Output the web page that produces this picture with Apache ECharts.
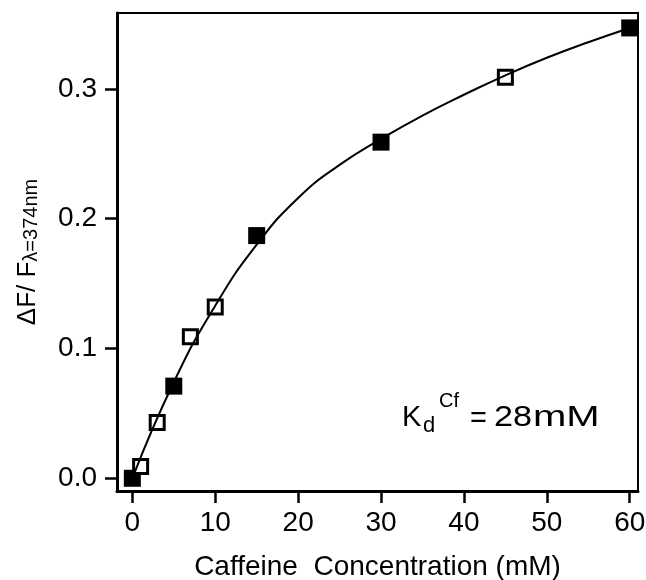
<!DOCTYPE html>
<html>
<head>
<meta charset="utf-8">
<script src="https://cdn.jsdelivr.net/npm/echarts@6/dist/echarts.min.js"></script>
<style>
  html, body { margin: 0; padding: 0; background: #fff; }
  #chart { width: 646px; height: 580px; }
</style>
</head>
<body>
<div id="chart"></div>
<script>
// measured points, caffeine concentration (mM) vs dF/F
var filledX = [0, 5, 15, 30, 60];
var filledY = [0.0, 0.071, 0.187, 0.259, 0.347];
var openX = [1, 3, 7, 10, 45];
var openY = [0.009, 0.043, 0.109, 0.132, 0.309];

// fitted curve (Kd = 28 mM), every 5 mM
var fitX = [0, 5, 10, 15, 20, 25, 30, 35, 40, 45, 50, 55, 60];
var fitY = [0, 0.074, 0.133, 0.180, 0.216, 0.2415, 0.2615, 0.2795, 0.2955, 0.3105, 0.324, 0.336, 0.347];

var xTicks = [0, 10, 20, 30, 40, 50, 60];
var yTicks = [0, 0.1, 0.2, 0.3];

function pairs(xs, ys) {
    return xs.map(function (x, i) { return [x, ys[i]]; });
}

var font = 'Liberation Sans, Arial, Helvetica, sans-serif';
var chart = echarts.init(document.getElementById('chart'));

function label(text, x, y, size, sx) {
    return {
        type: 'text', x: x, y: y, scaleX: sx || 1,
        style: { text: text, fontSize: size, fontFamily: font, fill: '#000', verticalAlign: 'top', align: 'left' }
    };
}

var option = {
    animation: false,
    backgroundColor: '#fff',
    textStyle: { fontFamily: font, color: '#000' },
    grid: {
        left: 117, top: 13, width: 521, height: 478,
        show: true, borderColor: '#000', borderWidth: 2,
        containLabel: false,
        outerBoundsMode: 'none'
    },
    xAxis: {
        type: 'value',
        min: -1.85,
        max: 61,
        splitLine: { show: false },
        axisLine: { onZero: false, lineStyle: { color: '#000', width: 3 } },
        axisTick: { inside: false, length: 12, customValues: xTicks, lineStyle: { color: '#000', width: 2.5 } },
        axisLabel: { customValues: xTicks, margin: 18, fontSize: 28, color: '#000', fontFamily: font },
        name: 'Caffeine  Concentration (mM)',
        nameLocation: 'middle',
        nameGap: 62,
        nameTextStyle: { fontSize: 28, color: '#000', fontFamily: font }
    },
    yAxis: {
        type: 'value',
        min: -0.0098,
        max: 0.3585,
        splitLine: { show: false },
        axisLine: { onZero: false, lineStyle: { color: '#000', width: 3 } },
        axisTick: { inside: false, length: 12, customValues: yTicks, lineStyle: { color: '#000', width: 2.5 } },
        axisLabel: {
            customValues: yTicks, margin: 20, fontSize: 28, color: '#000', fontFamily: font,
            formatter: function (v) { return v.toFixed(1); }
        },
        name: '{m|\u0394F/ F}{s|\u03bb=374nm}',
        nameLocation: 'middle',
        nameRotate: 90,
        nameGap: 76,
        nameTextStyle: {
            rich: {
                m: { fontSize: 26, lineHeight: 30, color: '#000', fontFamily: font, verticalAlign: 'bottom' },
                s: { fontSize: 20, lineHeight: 24, color: '#000', fontFamily: font, verticalAlign: 'bottom' }
            }
        }
    },
    series: [
        {
            name: 'filled',
            type: 'scatter',
            symbol: 'rect',
            symbolSize: 17,
            itemStyle: { color: '#000', opacity: 1 },
            data: pairs(filledX, filledY)
        },
        {
            name: 'open',
            type: 'scatter',
            symbol: 'rect',
            symbolSize: 14,
            itemStyle: { color: '#fff', borderColor: '#000', borderWidth: 3, opacity: 1 },
            data: pairs(openX, openY)
        },
        {
            name: 'fit',
            type: 'line',
            smooth: true,
            showSymbol: false,
            lineStyle: { color: '#000', width: 2 },
            z: 3,
            data: pairs(fitX, fitY)
        }
    ],
    graphic: [
        label('K', 402, 403, 29),
        label('d', 423, 415, 22),
        label('Cf', 439, 391, 20),
        label('=', 470, 404, 29),
        label('28', 494, 403, 29, 1.18),
        label('mM', 533, 403, 29, 1.38)
    ]
};
chart.setOption(option);
</script>
</body>
</html>
